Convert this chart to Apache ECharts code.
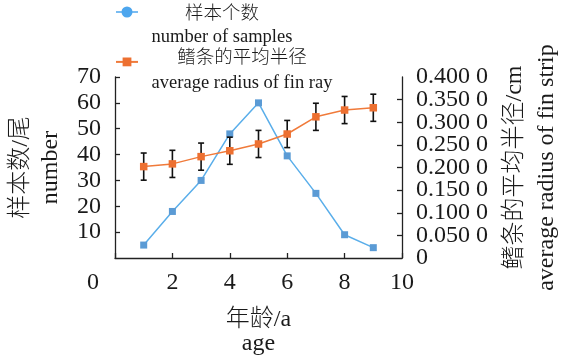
<!DOCTYPE html>
<html>
<head>
<meta charset="utf-8">
<script src="https://cdn.jsdelivr.net/npm/echarts@6/dist/echarts.min.js"></script>
<style>
  html, body { margin: 0; padding: 0; background: #fff; }
  #chart { width: 561px; height: 359px; }
</style>
</head>
<body>
<div id="chart"></div>
<script>
// 数据
const ages = [1, 2, 3, 4, 5, 6, 7, 8, 9]
const sampleCounts = [5, 18, 30, 48, 60, 39.5, 25, 9, 4]
const finRadius = [0.202, 0.208, 0.224, 0.237, 0.252, 0.274, 0.312, 0.327, 0.332]
const radiusError = [0.030, 0.030, 0.030, 0.030, 0.030, 0.030, 0.030, 0.030, 0.030]
const seriesNames = ['样本个数', '鳍条的平均半径']
const seriesNamesEn = ['number of samples', 'average radius of fin ray']

const FONT = '"Liberation Serif", "Noto Sans CJK SC", serif'
const TEXT = '#1a1a1a'
const BLUE_LINE = '#5aaeea'
const BLUE_MARK = '#5b9bd5'
const ORANGE_LINE = '#f07a3a'
const ORANGE_MARK = '#ed7031'

const chart = echarts.init(document.getElementById('chart'))

const axisLine = { show: true, lineStyle: { color: '#222', width: 1.3 } }
const axisTick = { show: true, inside: true, length: 5, lineStyle: { color: '#222', width: 1.3 } }

// 右轴刻度文字 0.400 0
function radiusLabel(v) {
  if (v === 0) return '0'
  const s = v.toFixed(4)
  return s.slice(0, 5) + ' ' + s.slice(5)
}

// 图例文字（两行居中）
function legendText(text, x, y) {
  return {
    type: 'text',
    x: x,
    y: y,
    style: {
      text: text,
      fontFamily: FONT,
      fontSize: 18.5,
      fontWeight: 300,
      fill: TEXT,
      align: 'center',
      verticalAlign: 'middle'
    }
  }
}

const rightLabel = {
  margin: 14,
  interval: 0,
  fontFamily: FONT,
  fontSize: 24,
  color: TEXT
}

const option = {
  animation: false,
  backgroundColor: '#fff',
  legend: {
    orient: 'vertical',
    left: 115,
    top: 6.5,
    padding: 0,
    itemWidth: 22,
    itemHeight: 11,
    itemGap: 40,
    selectedMode: false,
    data: [
      {
        name: seriesNames[0],
        // 线+圆点
        icon: 'path://M0,4.8L22,4.8L22,6.2L0,6.2Z M16.5,5.5A5.5,5.5 0 1 1 5.5,5.5A5.5,5.5 0 1 1 16.5,5.5Z',
        itemStyle: { color: '#4da6ee' }
      },
      { name: seriesNames[1] }
    ],
    formatter: function() {
      return ''
    },
    textStyle: { fontSize: 10, lineHeight: 10 }
  },
  graphic: [
    legendText(seriesNames[0], 222, 14.5),
    legendText(seriesNamesEn[0], 222, 37),
    legendText(seriesNames[1], 242, 58),
    legendText(seriesNamesEn[1], 242, 83)
  ],
  grid: {
    left: 115,
    right: 159,
    top: 77,
    bottom: 101,
    containLabel: false,
    outerBoundsMode: 'none'
  },
  xAxis: {
    type: 'value',
    min: 0,
    max: 10,
    interval: 2,
    name: '年龄/a\nage',
    nameLocation: 'middle',
    nameGap: 50,
    nameTextStyle: { fontFamily: FONT, fontSize: 24, fontWeight: 300, lineHeight: 24, color: TEXT },
    axisLine: axisLine,
    axisTick: axisTick,
    splitLine: { show: false },
    axisLabel: {
      margin: 13,
      fontFamily: FONT,
      fontSize: 24,
      color: TEXT,
      formatter: function(v) {
        return v === 0 ? '{z|0}' : String(v)
      },
      rich: {
        z: { fontFamily: FONT, fontSize: 24, color: TEXT, padding: [0, 44, 0, 0] }
      }
    }
  },
  yAxis: [
    {
      type: 'value',
      min: 0,
      max: 70,
      interval: 10,
      name: '样本数/尾\nnumber',
      nameLocation: 'middle',
      nameGap: 37,
      nameTextStyle: { fontFamily: FONT, fontSize: 24, fontWeight: 300, lineHeight: 30, color: TEXT },
      axisLine: axisLine,
      axisTick: axisTick,
      splitLine: { show: false },
      axisLabel: {
        margin: 14,
        interval: 0,
        showMinLabel: false,
        showMaxLabel: true,
        fontFamily: FONT,
        fontSize: 24,
        color: TEXT
      }
    },
    {
      type: 'value',
      position: 'right',
      min: 0,
      max: 0.4,
      interval: 0.05,
      name: '鳍条的平均半径/cm\naverage radius of fin strip',
      nameLocation: 'middle',
      nameGap: 92,
      nameTextStyle: { fontFamily: FONT, fontSize: 24, fontWeight: 300, lineHeight: 32, color: TEXT },
      axisLine: axisLine,
      axisTick: axisTick,
      splitLine: { show: false },
      // 中间刻度文字
      axisLabel: Object.assign({}, rightLabel, {
        showMinLabel: false,
        showMaxLabel: false,
        formatter: radiusLabel
      })
    },
    {
      // 同一右轴的两端刻度文字
      type: 'value',
      position: 'right',
      min: 0,
      max: 0.4,
      interval: 0.05,
      axisLine: { show: false },
      axisTick: { show: false },
      splitLine: { show: false },
      axisLabel: Object.assign({}, rightLabel, {
        showMinLabel: true,
        showMaxLabel: true,
        formatter: function(v) {
          return v === 0 || Math.abs(v - 0.4) < 1e-9 ? radiusLabel(v) : ''
        }
      })
    }
  ],
  series: [
    {
      name: seriesNames[0],
      type: 'line',
      yAxisIndex: 0,
      data: ages.map((a, i) => [a, sampleCounts[i]]),
      symbol: 'rect',
      symbolSize: 7,
      lineStyle: { color: BLUE_LINE, width: 1.5 },
      itemStyle: { color: BLUE_MARK },
      z: 3
    },
    {
      name: 'error',
      type: 'custom',
      yAxisIndex: 1,
      data: ages.map((a, i) => [a, finRadius[i] - radiusError[i], finRadius[i] + radiusError[i]]),
      encode: { x: 0, y: [1, 2] },
      renderItem: function(params, api) {
        const x = api.value(0)
        const lo = api.coord([x, api.value(1)])
        const hi = api.coord([x, api.value(2)])
        const w = 3
        const style = { stroke: '#111', lineWidth: 1.6 }
        return {
          type: 'group',
          children: [
            { type: 'line', shape: { x1: lo[0], y1: lo[1], x2: hi[0], y2: hi[1] }, style: style },
            { type: 'line', shape: { x1: hi[0] - w, y1: hi[1], x2: hi[0] + w, y2: hi[1] }, style: style },
            { type: 'line', shape: { x1: lo[0] - w, y1: lo[1], x2: lo[0] + w, y2: lo[1] }, style: style }
          ]
        }
      },
      z: 4
    },
    {
      name: seriesNames[1],
      type: 'line',
      yAxisIndex: 1,
      data: ages.map((a, i) => [a, finRadius[i]]),
      symbol: 'rect',
      symbolSize: 7.5,
      lineStyle: { color: ORANGE_LINE, width: 1.5 },
      itemStyle: { color: ORANGE_MARK },
      z: 5
    }
  ]
}

chart.setOption(option)
</script>
</body>
</html>
